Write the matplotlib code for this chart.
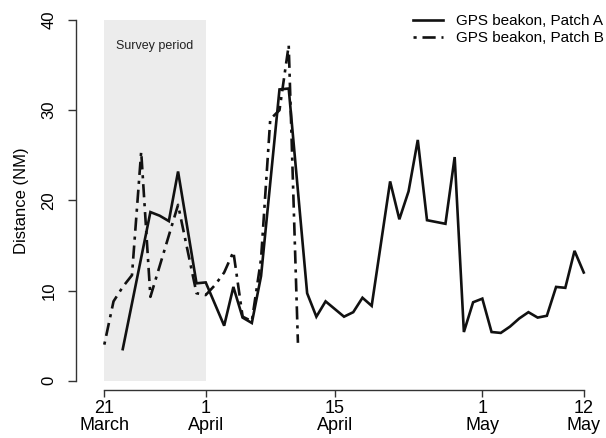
import numpy as np
import matplotlib
matplotlib.use('Agg')
import matplotlib.pyplot as plt

plt.rcParams['font.family'] = ['Liberation Sans', 'DejaVu Sans']

# days counted from 21 March
days_a = [2, 5, 6, 7, 8, 10, 11, 13, 14, 15, 16, 17, 19, 20, 22, 23, 24, 26, 27, 28,
          29, 31, 32, 33, 34, 35, 37, 38, 39, 40, 41, 42, 43, 44, 45, 46, 47, 48, 49,
          50, 51, 52]
dist_a = [3.5, 18.7, 18.3, 17.7, 23.2, 10.8, 10.9, 6.1, 10.4, 7.0, 6.4, 11.6, 32.3, 32.4,
          9.7, 7.1, 8.8, 7.1, 7.6, 9.2, 8.3, 22.1, 17.9, 21.0, 26.7, 17.8, 17.4, 24.8,
          5.4, 8.7, 9.1, 5.4, 5.3, 6.0, 6.9, 7.6, 7.0, 7.2, 10.4, 10.3, 14.4, 12.0]

days_b = [0, 1, 2, 3, 4, 5, 8, 10, 11, 12, 13, 14, 15, 16, 17, 18, 19, 20, 21]
dist_b = [4.0, 8.8, 10.4, 11.7, 25.4, 9.3, 19.5, 9.7, 9.5, 10.6, 12.0, 14.3, 7.1, 6.6,
          13.5, 29.0, 30.0, 37.2, 4.2]

survey_start, survey_end = 0, 11
tick_days = [0, 11, 25, 41, 52]
tick_labels = ['21\nMarch', '1\nApril', '15\nApril', '1\nMay', '12\nMay']
y_ticks = [0, 10, 20, 30, 40]

fig = plt.figure(figsize=(6.06, 4.38), dpi=100)
ax = fig.add_axes([76 / 606, 48 / 438, 526 / 606, 379.3 / 438])

ax.axvspan(survey_start, survey_end, ymin=(0 + 1.03) / 42.06, ymax=(40 + 1.03) / 42.06,
           color='#ececec', lw=0, zorder=0)
ax.text((survey_start + survey_end) / 2, 37.1, 'Survey period', ha='center', va='center',
        fontsize=9, color='#222222')

ax.plot(days_a, dist_a, color='#111111', lw=1.9, solid_joinstyle='miter',
        label='GPS beakon, Patch A')
ax.plot(days_b, dist_b, color='#111111', lw=1.9, linestyle=(0, (1.2, 2.2, 5, 2.2)),
        label='GPS beakon, Patch B')

ax.set_xlim(-3.07, 53.98)
ax.set_ylim(-1.03, 41.03)

for side in ['top', 'right']:
    ax.spines[side].set_visible(False)
ax.spines['left'].set_bounds(0, 40)
ax.spines['bottom'].set_bounds(0, 52)
for side in ['left', 'bottom']:
    ax.spines[side].set_color('#333333')
    ax.spines[side].set_linewidth(1.0)

ax.set_xticks(tick_days)
ax.set_xticklabels(tick_labels, fontsize=13, linespacing=1.0)
ax.set_yticks(y_ticks)
ax.set_yticklabels([str(v) for v in y_ticks], fontsize=12, rotation=90, va='center')
ax.tick_params(axis='x', length=5, width=1.0, color='#333333', pad=2.5)
ax.tick_params(axis='y', length=6, width=1.0, color='#333333', pad=8)

ax.set_ylabel('Distance (NM)', fontsize=12)
ax.yaxis.set_label_coords(-0.089, 0.5)

ax.legend(loc='upper left', bbox_to_anchor=(413 / 606, 1 - 14 / 438),
          bbox_transform=fig.transFigure, frameon=False, fontsize=11,
          handlelength=1.96, handletextpad=0.85, labelspacing=0.2,
          borderpad=0, borderaxespad=0)

fig.savefig('out.png', dpi=100)
